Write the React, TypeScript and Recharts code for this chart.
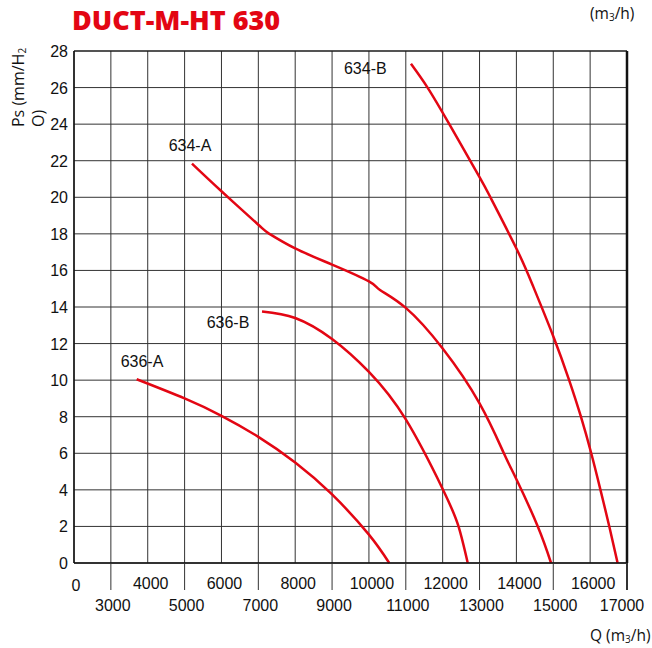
import React from "react"
import { LineChart, Line, XAxis, YAxis, CartesianGrid, ReferenceLine, ReferenceDot } from "recharts"

// Q (m3/h) and Ps (mm H2O)
const q636A = [3700, 5000, 6000, 7000, 8000, 9000, 10000, 10550]
const ps636A = [10.05, 9.0, 8.05, 6.9, 5.5, 3.75, 1.55, 0]

const q636B = [7100, 8000, 9000, 10000, 11000, 12000, 12430, 12680]
const ps636B = [13.76, 13.4, 12.25, 10.45, 7.85, 4.05, 2.0, 0]

const q634A = [5200, 6000, 7000, 7300, 8000, 9000, 10000, 10300, 11000, 12000, 13000, 13660, 14000, 14580, 14940]
const ps634A = [21.84, 20.33, 18.5, 18.0, 17.2, 16.32, 15.4, 14.93, 13.95, 11.73, 8.73, 6.0, 4.58, 2.0, 0]

const q634B = [11140, 11590, 12180, 13000, 13320, 14000, 14440, 15000, 15430, 15750, 16030, 16280, 16520, 16745]
const ps634B = [27.3, 26, 24, 21.1, 19.9, 17.2, 15.2, 12.4, 10, 8, 6, 4, 2, 0]

const seriesNames = ["636-A", "636-B", "634-A", "634-B"]
// where each curve name sits, in chart units
const labelQ = [3845, 6177, 5147, 9902]
const labelPs = [11.01, 13.14, 22.86, 27.05]

const xTicks = [2000, 3000, 4000, 5000, 6000, 7000, 8000, 9000, 10000, 11000, 12000, 13000, 14000, 15000, 16000, 17000]
const yTicks = [0, 2, 4, 6, 8, 10, 12, 14, 16, 18, 20, 22, 24, 26, 28]

const RED = "#e30613"
const FONT = "'Liberation Sans', Arial, sans-serif"
const SANS = "'Open Sans', sans-serif"

const toPoints = (q: number[], ps: number[]) => q.map((v, i) => ({ q: v, ps: ps[i] }))

const curves = [
  toPoints(q636A, ps636A),
  toPoints(q636B, ps636B),
  toPoints(q634A, ps634A),
  toPoints(q634B, ps634B),
]

function XTick(props: any) {
  const { x, y, payload } = props
  const v = payload.value
  if (v === 2000) {
    return (
      <text x={x + 2} y={y + 28} textAnchor="middle" fontSize={16} fill="#111" fontFamily={FONT}>
        0
      </text>
    )
  }
  const odd = (v / 1000) % 2 === 1
  if (odd) {
    const dx = v === 17000 ? -5 : 2
    return (
      <g>
        <line x1={x} x2={x} y1={y} y2={y + 27} stroke="#333" strokeWidth={v === 17000 ? 2 : 1} />
        <text x={x + dx} y={y + 48} textAnchor="middle" fontSize={16} fill="#111" fontFamily={FONT}>
          {v}
        </text>
      </g>
    )
  }
  return (
    <text x={x + 3} y={y + 26} textAnchor="middle" fontSize={16} fill="#111" fontFamily={FONT}>
      {v}
    </text>
  )
}

function YTick(props: any) {
  const { x, y, payload } = props
  return (
    <text x={x - 6} y={y + 6} textAnchor="end" fontSize={16} fill="#111" fontFamily={FONT}>
      {payload.value}
    </text>
  )
}

export default function App() {
  return (
    <div style={{ position: "absolute", left: 0, top: 0, width: 652, height: 648, background: "#fff", overflow: "hidden" }}>
      <LineChart width={652} height={648} margin={{ top: 51, right: 25, bottom: 55, left: 14 }}>
        <CartesianGrid stroke="#333" strokeWidth={1} />
        <XAxis
          type="number"
          dataKey="q"
          domain={[2000, 17000]}
          ticks={xTicks}
          interval={0}
          allowDataOverflow
          height={30}
          tickSize={0}
          tickMargin={0}
          tickLine={false}
          axisLine={{ stroke: "#111", strokeWidth: 1.5 }}
          tick={<XTick />}
        />
        <YAxis
          type="number"
          dataKey="ps"
          domain={[0, 28]}
          ticks={yTicks}
          interval={0}
          width={60}
          tickSize={0}
          tickMargin={0}
          tickLine={false}
          axisLine={{ stroke: "#111", strokeWidth: 1.5 }}
          tick={<YTick />}
        />
        <ReferenceLine x={17000} stroke="#111" strokeWidth={2.5} />
        <ReferenceLine y={28} stroke="#111" strokeWidth={1.2} />
        {curves.map((pts, i) => (
          <Line
            key={seriesNames[i]}
            data={pts}
            dataKey="ps"
            type="natural"
            stroke={RED}
            strokeWidth={2.5}
            dot={false}
            activeDot={false}
            isAnimationActive={false}
          />
        ))}
        {seriesNames.map((name, i) => (
          <ReferenceDot
            key={"lbl" + name}
            x={labelQ[i]}
            y={labelPs[i]}
            r={0}
            fill="none"
            stroke="none"
            label={{ value: name, position: "center", fontSize: 16, fill: "#111", fontFamily: FONT }}
          />
        ))}
      </LineChart>
      <svg width={652} height={648} style={{ position: "absolute", left: 0, top: 0, pointerEvents: "none" }}>
        <text x={72} y={29.5} fontSize={27} fontWeight={800} fill={RED} fontFamily={SANS}>
          DUCT-M-HT 630
        </text>
        <text x={590} y={19} fontSize={15.5} fill="#111" fontFamily={SANS}>
          (m<tspan fontSize={10} dy={2}>3</tspan>
          <tspan dy={-2}>/h)</tspan>
        </text>
        <text x={590} y={641} fontSize={15.5} fill="#111" fontFamily={SANS}>
          Q (m<tspan fontSize={10} dy={2}>3</tspan>
          <tspan dy={-2}>/h)</tspan>
        </text>
        <text transform="translate(24,127) rotate(-90)" fontSize={16} fill="#111" fontFamily={SANS}>
          Ps (mm/H<tspan fontSize={10} dy={2}>2</tspan>
        </text>
        <text transform="translate(44,127) rotate(-90)" fontSize={16} fill="#111" fontFamily={SANS}>
          O)
        </text>
      </svg>
    </div>
  )
}
